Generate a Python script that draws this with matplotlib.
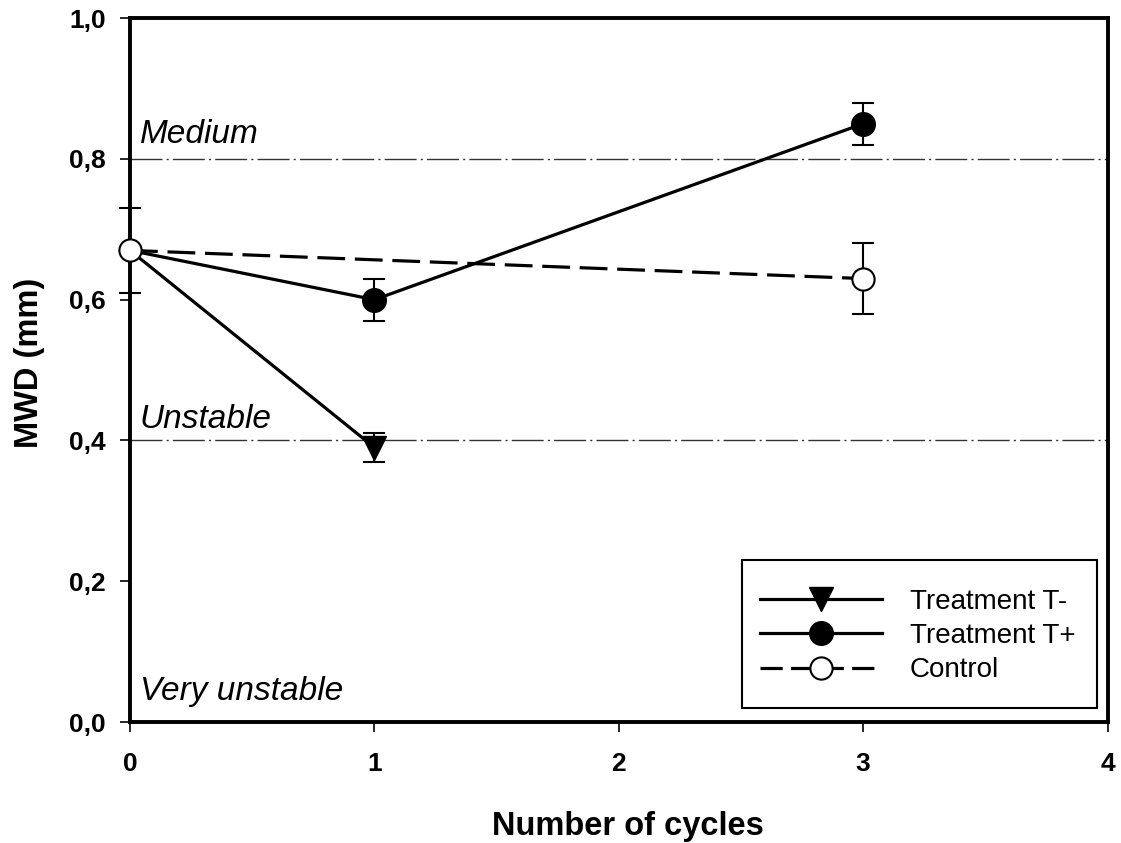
import matplotlib
matplotlib.use("Agg")
import matplotlib.pyplot as plt
from matplotlib.lines import Line2D
from matplotlib.patches import Rectangle

plt.rcParams['font.family'] = ['Liberation Sans', 'DejaVu Sans']
plt.rcParams['lines.scale_dashes'] = False

cycles_tm = [0, 1]
mwd_tm = [0.67, 0.39]
err_tm = [0.0, 0.02]

cycles_tp = [0, 1, 3]
mwd_tp = [0.67, 0.60, 0.85]
err_tp = [0.0, 0.03, 0.03]

cycles_c = [0, 3]
mwd_c = [0.67, 0.63]
err_c = [0.06, 0.05]

ref_levels = [0.8, 0.4]
class_labels = ["Medium", "Unstable", "Very unstable"]
class_label_y = [0.835, 0.43, 0.043]

xticks = [0, 1, 2, 3, 4]
yticks = [0.0, 0.2, 0.4, 0.6, 0.8, 1.0]
yticklabels = ["0,0", "0,2", "0,4", "0,6", "0,8", "1,0"]

fig = plt.figure(figsize=(11.21, 8.43), dpi=100)
ax = fig.add_axes([0.116, 0.1435, 0.872, 0.835])

for lv in ref_levels:
    ax.axhline(lv, color='#333333', lw=1.0, dashes=(23, 3, 1.5, 3), zorder=1)

for lab, yy in zip(class_labels, class_label_y):
    ax.text(0.04, yy, lab, fontsize=24, style='italic', va='center', ha='left')

lw = 2.3


def noclip(container):
    for art in container.get_children():
        art.set_clip_on(False)


c1 = ax.errorbar(cycles_tm, mwd_tm, yerr=err_tm, color='black', lw=lw, marker='v',
                 ms=17, mfc='black', mec='black', ecolor='black', elinewidth=1.5,
                 capsize=8, capthick=1.5, zorder=3, markevery=[1])
c2 = ax.errorbar(cycles_tp, mwd_tp, yerr=err_tp, color='black', lw=lw, marker='o',
                 ms=17, mfc='black', mec='black', ecolor='black', elinewidth=1.5,
                 capsize=8, capthick=1.5, zorder=4, markevery=[1, 2])
c3 = ax.errorbar(cycles_c, mwd_c, yerr=err_c, color='black', lw=lw, marker='o',
                 ms=16, mfc='white', mec='black', mew=1.5, ecolor='black',
                 elinewidth=1.5, capsize=8, capthick=1.5, zorder=5,
                 dashes=(20, 7))
for c in (c1, c2, c3):
    noclip(c)

ax.set_xlim(0, 4)
ax.set_ylim(0, 1.0)
ax.set_xticks(xticks)
ax.set_xticklabels([str(t) for t in xticks])
ax.set_yticks(yticks)
ax.set_yticklabels(yticklabels)
for s in ax.spines.values():
    s.set_linewidth(2.8)
ax.tick_params(direction='out', length=7.5, width=1.2, labelsize=19)
ax.tick_params(axis='x', pad=14)
ax.tick_params(axis='y', pad=10)
for t in ax.get_xticklabels() + ax.get_yticklabels():
    t.set_fontweight('bold')

ax.set_xlabel("Number of cycles", fontsize=23.5, fontweight='bold')
ax.set_ylabel("MWD (mm)", fontsize=23.5, fontweight='bold')
ax.xaxis.set_label_coords(0.509, -0.127)
ax.yaxis.set_label_coords(-0.087, 0.51)

handles = [
    Line2D([], [], color='black', lw=lw, marker='v', ms=17, mfc='black'),
    Line2D([], [], color='black', lw=lw, marker='o', ms=17, mfc='black'),
    Line2D([], [], color='black', lw=lw, marker='o', ms=16, mfc='white',
           mew=1.5, dashes=(16, 6)),
]
leg = ax.legend(handles, ["Treatment T-", "Treatment T+", "Control"],
                loc='center', bbox_to_anchor=(0.806, 0.122),
                fontsize=20, frameon=False, handlelength=4.4,
                borderpad=0.0, labelspacing=0.3, handletextpad=1.0,
                borderaxespad=0.0)
ax.add_patch(Rectangle((0.626, 0.020), 0.363, 0.210, transform=ax.transAxes,
                       fill=False, edgecolor='black', lw=1.5, zorder=6))

fig.savefig("out.png", dpi=100)
